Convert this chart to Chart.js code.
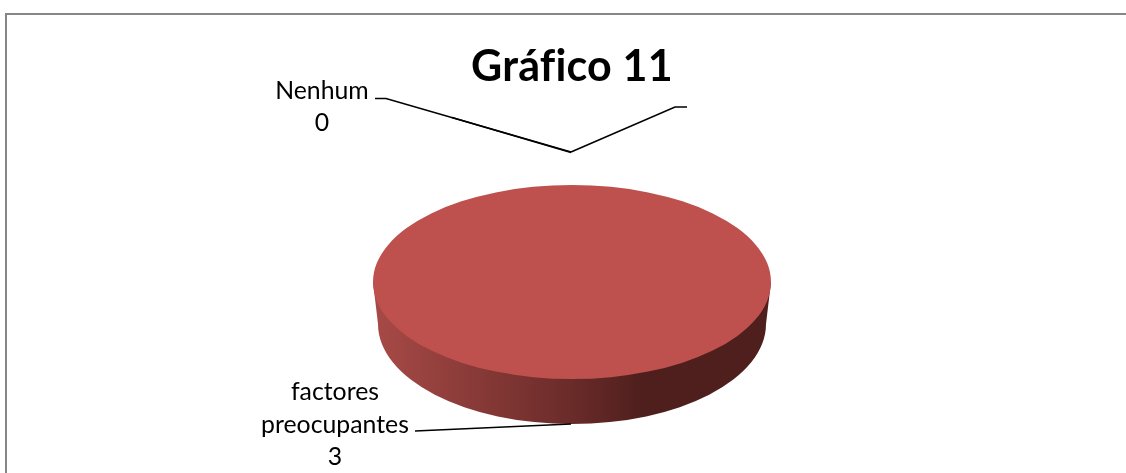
<!DOCTYPE html>
<html>
<head>
<meta charset="utf-8">
<title>Gráfico 11</title>
<script src="https://cdn.jsdelivr.net/npm/chart.js@4"></script>
<style>
  html, body { margin: 0; padding: 0; background: #fff; overflow: hidden; }
  #wrap { position: relative; width: 1126px; height: 473px; }
  /* chart frame: only top and left edges fall inside the page */
  #frame { position: absolute; left: 5px; top: 13px; right: -4px; bottom: -4px;
           border: 2px solid #868686; }
  canvas { position: absolute; left: 0; top: 0; }
</style>
</head>
<body>
<div id="wrap">
  <div id="frame"></div>
  <canvas id="chart" width="1126" height="473"></canvas>
</div>
<script>
const categories = ["Nenhum", "factores preocupantes"];
const values = [0, 3];
const labelLines = [["Nenhum"], ["factores", "preocupantes"]];
const titleText = "Gráfico 11";

const FONT = "Lato, 'Open Sans', sans-serif";
const RED = "#be504d";

// pie geometry: the flat pie gets squashed into an ellipse, with a wall below it
const PIE = { rx: 199, ry: 97, cy: 282, wallRx: 194, wallRy: 100, wallCy: 324 };

// ---- data label placement + leader polylines (label anchor first)
const labelBoxes = [
  { x: 322, y: 91, lead: [[375, 98.5], [386, 98.5], [571, 152]] },
  { x: 335, y: 392.5, lead: [[415, 431], [571, 424]] },
];
const strayLeaders = [
  [[571, 152], [675, 107], [687, 107]],
  [[452, 117.5], [571, 152.5]],
];

const pie3d = {
  id: "pie3d",
  beforeDraw(chart) {
    // spacing keeps the title's "fi" as two separate letters
    chart.ctx.letterSpacing = "0.2px";
  },
  beforeDatasetDraw(chart) {
    const { ctx } = chart;
    const arc = chart.getDatasetMeta(0).data[1];
    const cx = arc.x, p = PIE;

    // wall: lower half of the base ellipse, closed against the top face
    const g = ctx.createLinearGradient(cx - p.rx, 0, cx + p.rx, 0);
    g.addColorStop(0, "#a84a47");
    g.addColorStop(0.5, "#6a2b29");
    g.addColorStop(0.68, "#4e1f1d");
    g.addColorStop(1, "#4e1f1d");
    ctx.save();
    ctx.beginPath();
    ctx.moveTo(cx - p.rx, p.cy);
    ctx.lineTo(cx - p.wallRx, p.wallCy);
    ctx.ellipse(cx, p.wallCy, p.wallRx, p.wallRy, 0, Math.PI, 0, true);
    ctx.lineTo(cx + p.rx, p.cy);
    ctx.closePath();
    ctx.fillStyle = g;
    ctx.fill();
    ctx.restore();

    // squash the arcs the library is about to draw
    ctx.save();
    ctx.translate(cx, p.cy);
    ctx.scale(1, p.ry / p.rx);
    ctx.translate(-cx, -arc.y);
  },
  afterDatasetDraw(chart) {
    chart.ctx.restore();
  },
  afterDraw(chart) {
    const { ctx } = chart;
    ctx.save();
    ctx.letterSpacing = "0px";
    ctx.strokeStyle = "#000";
    ctx.lineWidth = 1.6;
    [...labelBoxes.map(b => b.lead), ...strayLeaders].forEach(pts => {
      ctx.beginPath();
      pts.forEach(([x, y], i) => i ? ctx.lineTo(x, y) : ctx.moveTo(x, y));
      ctx.stroke();
    });
    ctx.fillStyle = "#000";
    ctx.font = "24.8px " + FONT;
    ctx.textAlign = "center";
    ctx.textBaseline = "middle";
    labelBoxes.forEach((b, i) => {
      [...labelLines[i], String(values[i])].forEach((t, n) => ctx.fillText(t, b.x, b.y + n * 32.5));
    });
    ctx.restore();
  },
};

new Chart(document.getElementById("chart"), {
  type: "pie",
  data: {
    labels: categories,
    datasets: [{ data: values, backgroundColor: ["#4f81bd", RED], borderWidth: 0, clip: false }],
  },
  options: {
    responsive: false,
    animation: false,
    radius: PIE.rx,
    layout: { padding: { left: 18, top: 41 } },
    plugins: {
      legend: { display: false },
      tooltip: { enabled: false },
      title: {
        display: true, text: titleText, fullSize: false, padding: 0, color: "#000",
        font: { family: FONT, size: 43, weight: "bold", lineHeight: 1.2 },
      },
    },
  },
  plugins: [pie3d],
});
</script>
</body>
</html>
